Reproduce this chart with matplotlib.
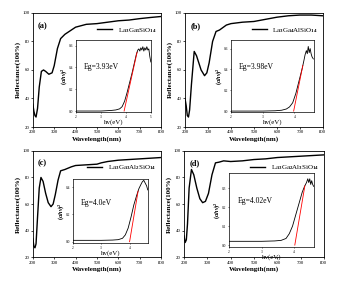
import matplotlib
matplotlib.use('Agg')
import matplotlib.pyplot as plt
import numpy as np

plt.rcParams['font.family'] = 'Liberation Serif'
plt.rcParams['mathtext.fontset'] = 'custom'
plt.rcParams['mathtext.rm'] = 'Liberation Serif:bold'
plt.rcParams['mathtext.it'] = 'Liberation Serif:italic:bold'

# reflectance spectra (wavelength nm, reflectance %)
wl_a = [200, 205, 210, 215, 222, 230, 240, 250, 260, 275, 290, 300, 315, 330, 350, 380, 400,
        450, 500, 550, 600, 650, 700, 750, 800]
refl_a = [36, 31, 28, 27, 33, 48, 59, 60, 59, 57, 58, 63, 75, 82, 85, 88, 90,
          92, 92.5, 93.5, 94.5, 95, 96, 96.8, 97.5]

wl_b = [200, 205, 210, 215, 220, 228, 240, 250, 260, 270, 285, 295, 305, 320, 335, 350, 380,
        400, 450, 500, 550, 600, 650, 700, 750, 800]
refl_b = [40, 35, 28, 27, 32, 50, 73, 70, 65, 60, 56, 58, 65, 80, 87, 88, 91.5,
          92.5, 93.5, 94, 95.5, 97, 98, 98.5, 98.5, 98]

wl_c = [200, 205, 210, 215, 222, 230, 238, 248, 260, 272, 285, 295, 305, 318, 330, 350, 380,
        400, 450, 500, 520, 550, 600, 650, 700, 750, 800]
refl_c = [34, 28, 27, 30, 50, 72, 80, 77, 68, 61, 58, 60, 67, 78, 85, 86, 88,
          89, 89.5, 90, 91, 92, 93, 93.5, 94, 94.5, 95]

wl_d = [200, 205, 210, 215, 222, 232, 242, 255, 268, 280, 292, 305, 320, 335, 350, 370, 400,
        450, 500, 550, 600, 650, 700, 750, 800]
refl_d = [36, 31, 33, 45, 72, 86, 82, 72, 64, 61, 62, 68, 82, 91, 91.5, 92.5, 92,
          92.5, 93.5, 94, 95, 95.5, 96, 96.5, 97]

# Tauc plots (hv eV, (alpha hv)^2)
hv_a = [2.0, 2.5, 3.0, 3.4, 3.6, 3.75, 3.85, 3.95, 4.05, 4.15, 4.25, 4.35, 4.42, 4.48, 4.52,
        4.56, 4.6, 4.64, 4.68, 4.72, 4.76, 4.8, 4.84, 4.88, 4.92, 4.96, 5.0]
tauc_a = [0.0, 0.0, 0.0, 0.005, 0.01, 0.02, 0.04, 0.09, 0.17, 0.26, 0.35, 0.45, 0.52, 0.56, 0.57,
          0.55, 0.58, 0.56, 0.59, 0.55, 0.58, 0.56, 0.59, 0.56, 0.57, 0.5, 0.45]
fit_a = [3.93, 4.45]

hv_b = [2.0, 2.5, 3.0, 3.4, 3.6, 3.75, 3.85, 3.95, 4.05, 4.15, 4.25, 4.3, 4.34, 4.38, 4.41,
        4.44, 4.47, 4.5, 4.53, 4.56, 4.6]
tauc_b = [0.0, 0.0, 0.0, 0.003, 0.008, 0.02, 0.04, 0.08, 0.17, 0.29, 0.41, 0.48, 0.54, 0.58, 0.55,
          0.62, 0.56, 0.6, 0.55, 0.52, 0.5]
fit_b = [3.98, 4.27]

hv_c = [2.0, 2.5, 3.0, 3.4, 3.6, 3.75, 3.85, 3.95, 4.05, 4.15, 4.25, 4.33, 4.4, 4.45, 4.5,
        4.55, 4.6, 4.64]
tauc_c = [0.01, 0.01, 0.01, 0.012, 0.015, 0.025, 0.05, 0.1, 0.18, 0.27, 0.34, 0.39, 0.42, 0.44, 0.45,
          0.43, 0.41, 0.38]
fit_c = [4.0, 4.3]

hv_d = [2.0, 2.5, 3.0, 3.4, 3.6, 3.75, 3.85, 3.95, 4.05, 4.15, 4.25, 4.32, 4.38, 4.42, 4.45,
        4.48, 4.51, 4.54, 4.57, 4.6]
tauc_d = [0.02, 0.02, 0.02, 0.022, 0.025, 0.035, 0.06, 0.1, 0.16, 0.22, 0.28, 0.31, 0.33, 0.35, 0.33,
          0.35, 0.32, 0.34, 0.32, 0.31]
fit_d = [4.02, 4.33]

# tag, legend, data, fit, Eg text, inset xmax, inset ymax, inset y tick step
panels = [
    ('(a)', r'La$_3$Ga$_5$SiO$_{14}$', wl_a, refl_a, hv_a, tauc_a, fit_a, 'Eg=3.93eV', 5.0, 0.65, 0.2),
    ('(b)', r'La$_3$Ga$_4$AlSiO$_{14}$', wl_b, refl_b, hv_b, tauc_b, fit_b, 'Eg=3.98eV', 4.62, 0.68, 0.2),
    ('(c)', r'La$_3$Ga$_3$Al$_2$SiO$_{14}$', wl_c, refl_c, hv_c, tauc_c, fit_c, 'Eg=4.0eV', 4.64, 0.46, 0.2),
    ('(d)', r'La$_3$Ga$_2$Al$_3$SiO$_{14}$', wl_d, refl_d, hv_d, tauc_d, fit_d, 'Eg=4.02eV', 4.62, 0.38, 0.1),
]

main_pos = [[0.096, 0.548, 0.375, 0.406], [0.541, 0.548, 0.403, 0.406],
            [0.096, 0.085, 0.375, 0.378], [0.538, 0.085, 0.409, 0.378]]
inset_pos = [[0.222, 0.601, 0.219, 0.256], [0.675, 0.601, 0.243, 0.256],
             [0.213, 0.135, 0.219, 0.228], [0.670, 0.121, 0.249, 0.263]]

fig = plt.figure(figsize=(3.42, 2.81), dpi=100)

for i, (tag, name, wl, refl, hv, tauc, fit, eg, xmax, ymax, ystep) in enumerate(panels):
    ax = fig.add_axes(main_pos[i])
    ax.plot(wl, refl, color='black', lw=1.0, label=name)
    ax.set_xlim(200, 800)
    ax.set_ylim(20, 100)
    ax.set_xticks(range(200, 801, 100))
    ax.set_yticks(range(20, 101, 20))
    ax.tick_params(labelsize=3.5, length=1.5, width=0.5, pad=1)
    for s in ax.spines.values():
        s.set_linewidth(0.6)
    ax.set_xlabel('Wavelength(nm)', fontsize=5, fontweight='bold', labelpad=1)
    ax.set_ylabel('Reflectance(100%)', fontsize=5, fontweight='bold', labelpad=1)
    ax.text(0.04, 0.92, tag, transform=ax.transAxes, fontsize=6, fontweight='bold', va='top')
    ax.legend(loc='upper right', fontsize=5, frameon=False, handlelength=2.2,
              borderaxespad=0.3, bbox_to_anchor=(1.0, 0.93))

    ins = fig.add_axes(inset_pos[i])
    ins.plot(hv, tauc, color='black', lw=0.6)
    ins.plot(fit, [0, np.interp(fit[1], hv, tauc)], color='red', lw=0.6)
    ins.set_xlim(2, xmax)
    ins.set_ylim(-0.01, ymax)
    ins.set_xticks([2, 3, 4, 5] if xmax >= 5 else [2, 3, 4])
    ins.set_yticks(np.arange(0, ymax, ystep))
    ins.yaxis.set_major_formatter(matplotlib.ticker.FormatStrFormatter('%.1f'))
    ins.tick_params(labelsize=2.5, length=1, width=0.4, pad=1)
    for s in ins.spines.values():
        s.set_linewidth(0.5)
    ins.set_xlabel('hv(eV)', fontsize=5, labelpad=0)
    ins.set_ylabel(r'$(\alpha hv)^2$', fontsize=4.5, labelpad=0)
    ins.text(0.1, 0.6, eg, transform=ins.transAxes, fontsize=5.5)

fig.savefig('out.png', dpi=100)
